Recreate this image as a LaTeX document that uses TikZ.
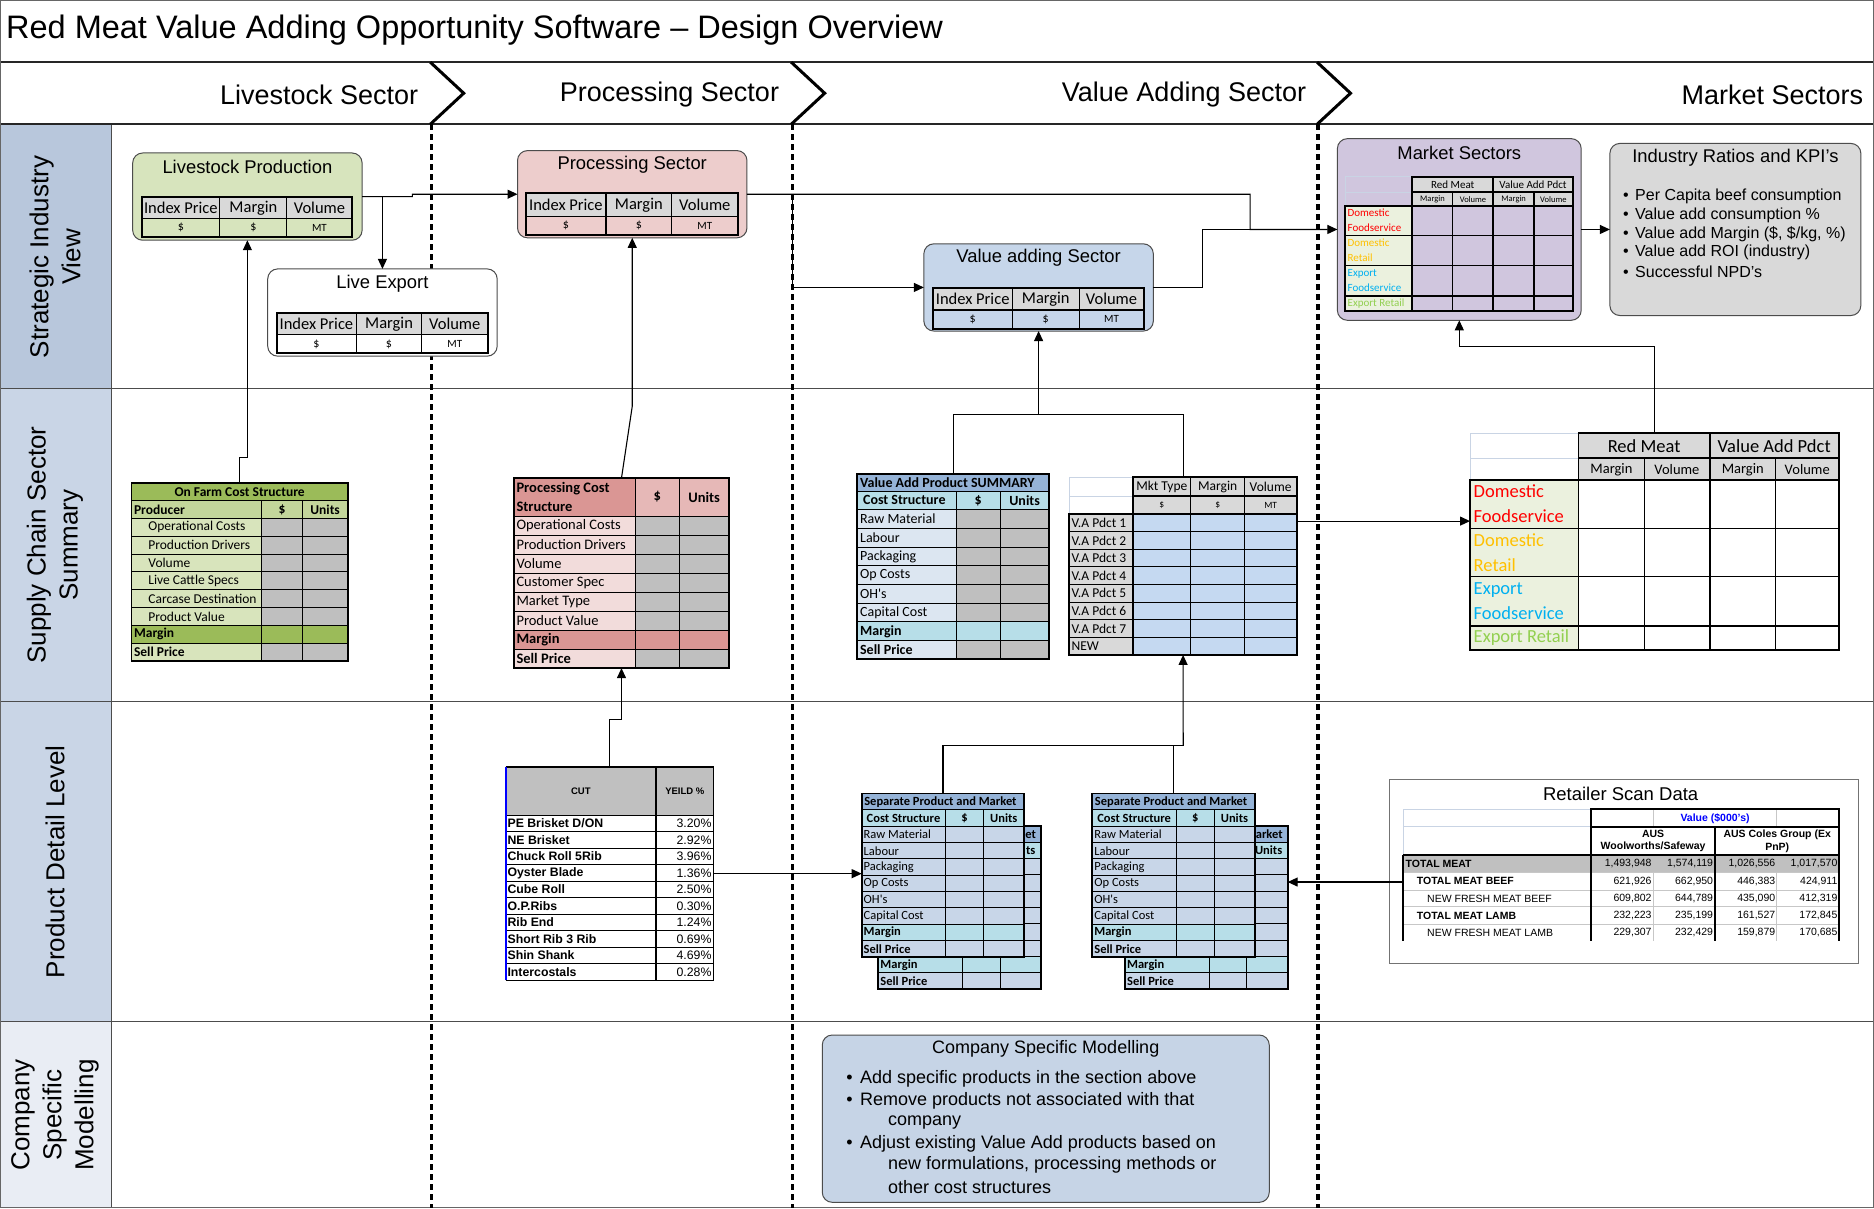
\documentclass[tikz,border=0pt]{standalone}
\usepackage{fontspec}
\setmainfont{Liberation Sans}
\newfontfamily\carl{Carlito}
\usetikzlibrary{arrows.meta,fit}

\newcount\txtno
\newcommand\fs[2]{\fontsize{#1}{#2}\selectfont}

\definecolor{bandA}{HTML}{B8C7DC}
\definecolor{bandB}{HTML}{C9D5E6}
\definecolor{bandC}{HTML}{E9EDF4}
\definecolor{lpgreen}{HTML}{D7E4BD}
\definecolor{pspink}{HTML}{EDCDCC}
\definecolor{vablue}{HTML}{C6D6EA}
\definecolor{mspurple}{HTML}{D0C6DE}
\definecolor{kpigray}{HTML}{D9D9D9}
\definecolor{hdgray}{HTML}{D9D9D9}
\definecolor{cgray}{HTML}{BFBFBF}
\definecolor{olive}{HTML}{9BBB59}
\definecolor{oliveB}{HTML}{C3D69B}
\definecolor{oliveC}{HTML}{D8E4BC}
\definecolor{roseA}{HTML}{DA9694}
\definecolor{roseB}{HTML}{E6B8B7}
\definecolor{roseC}{HTML}{F2DCDB}
\definecolor{steelA}{HTML}{95B3D7}
\definecolor{aquaB}{HTML}{B7DEE8}
\definecolor{steelC}{HTML}{DCE6F1}
\definecolor{steelD}{HTML}{C8D6E8}
\definecolor{skyD}{HTML}{C5D9F1}
\definecolor{mintC}{HTML}{EBF1DE}
\definecolor{faint}{HTML}{C9D4E4}
\definecolor{mkRed}{HTML}{FF0000}
\definecolor{mkGold}{HTML}{FFC000}
\definecolor{mkCyan}{HTML}{00B0F0}
\definecolor{mkLime}{HTML}{92D050}
\definecolor{csmfill}{HTML}{C6D4E6}
\definecolor{yieldhd}{HTML}{C0C0C0}

\tikzset{
  autoname/.style={/utils/exec={\global\advance\txtno by 1}, name=cell\the\txtno},
  c0/.style={inner sep=0pt, anchor=center},
  l0/.style={inner sep=0pt, anchor=west},
  r0/.style={inner sep=0pt, anchor=east},
  ct/.style={c0, autoname},
  lt/.style={l0, autoname},
  rt/.style={r0, autoname},
  cellrule/.style={draw=black, line width=1.1pt},
  boldrule/.style={draw=black, line width=1.9pt},
  lightrule/.style={draw=faint, line width=0.8pt},
  panel/.style={draw=black!70, line width=1pt, rounded corners=10pt},
  fitbox/.style={inner sep=0pt, outer sep=0pt},
  wire/.style={draw=black, line width=1.1pt},
  wirearrow/.style={wire, -{Triangle[length=10pt,width=9pt]}},
  lanesep/.style={line width=3.6pt, dash pattern=on 6pt off 4pt},
  chevron/.style={line width=3pt},
  sheetbold/.style={font=\carl\bfseries\fs{12.5}{14}},
  sheetplain/.style={font=\carl\fs{12.5}{14}},
}

% three-column sector summary table: column edges #1-#4, row edges #5-#7, unit-row fill #8
\newcommand\sectab[8]{%
  \fill[hdgray] (#1,#5) rectangle (#4,#6);
  \fill[#8] (#1,#6) rectangle (#4,#7);
  \draw[cellrule] (#1,#6) -- (#4,#6) (#2,#5) -- (#2,#7) (#3,#5) -- (#3,#7);
  \draw[boldrule] (#1,#5) rectangle (#4,#7);
  \node[ct, font=\carl\fs{16.5}{18}] at ({(#1+#2)/2},{(#5+#6)/2}) {Index Price};
  \node[ct, font=\carl\fs{16.5}{18}] at ({(#2+#3)/2},{(#5+#6)/2}) {Margin};
  \node[ct, font=\carl\fs{16.5}{18}] at ({(#3+#4)/2},{(#5+#6)/2}) {Volume};
  \node[ct, font=\carl\fs{12}{14}] at ({(#1+#2)/2},{(#6+#7)/2}) {\$};
  \node[ct, font=\carl\fs{12}{14}] at ({(#2+#3)/2},{(#6+#7)/2}) {\$};
  \node[ct, font=\carl\fs{11}{13}] at ({(#3+#4)/2},{(#6+#7)/2}) {MT};
}

% market sector grid: origin #1,#2, scale #3, data fill #4, fonts #5 #6 #7
\newcommand\mktab[7]{%
  \begin{scope}[shift={(#1,#2)}, scale=#3]
    \draw[lightrule] (0,0) rectangle (56,12.8) (0,12.8) rectangle (56,24);
    \fill[hdgray] (56,0) rectangle (190.4,24);
    \fill[mintC] (0,24) rectangle (56,112);
    \fill[#4] (56,24) rectangle (190.4,112);
    \draw[cellrule] (56,12.8) -- (190.4,12.8) (89.9,12.8) -- (89.9,112) (157.9,12.8) -- (157.9,112)
      (0,49) -- (190.4,49) (0,74) -- (190.4,74);
    \draw[boldrule] (56,0) rectangle (123.8,12.8) (123.8,0) rectangle (190.4,12.8)
      (56,0) rectangle (190.4,24) (0,24) rectangle (190.4,112)
      (56,24) -- (56,112) (123.8,12.8) -- (123.8,112) (0,99.4) -- (190.4,99.4);
    \node[ct, font=#5] at (89.9,6.6) {Red Meat};
    \node[ct, font=#5] at (157.1,6.6) {Value Add Pdct};
    \foreach \cx/\lab in {73/Margin,106.85/Volume,140.85/Margin,174.15/Volume}
      \node[ct, font=#6] at (\cx,18.6) {\lab};
    \node[lt, align=left, font=#7, text=mkRed] at (1.8,36.5) {Domestic\\Foodservice};
    \node[lt, align=left, font=#7, text=mkGold] at (1.8,61.5) {Domestic\\Retail};
    \node[lt, align=left, font=#7, text=mkCyan] at (1.8,86.7) {Export\\Foodservice};
    \node[lt, font=#7, text=mkLime] at (1.8,105.7) {Export Retail};
  \end{scope}}

% cells and rules of a product and market cost sheet, top-left corner at #1,#2
\newcommand\sheetgrid[2]{%
  \begin{scope}[shift={(#1,#2)}]
    \fill[steelA] (0,0) rectangle (136,13.67);
    \fill[aquaB] (0,13.67) rectangle (136,27.34);
    \fill[steelD] (0,27.34) rectangle (136,109.36);
    \fill[aquaB] (0,109.36) rectangle (136,123.03);
    \fill[steelD] (0,123.03) rectangle (136,136.7);
    \foreach \i in {1,...,9} \draw[cellrule] (0,13.67*\i) -- (136,13.67*\i);
    \draw[cellrule] (70.4,13.67) -- (70.4,136.7) (101.8,13.67) -- (101.8,136.7);
    \draw[boldrule] (0,0) rectangle (136,136.7);
  \end{scope}}

% full set of labels for a sheet that is not covered
\newcommand\sheettext[2]{%
  \begin{scope}[shift={(#1,#2)}]
    \node[lt, sheetbold] at (2,6.9) {Separate Product and Market};
    \node[lt, sheetbold] at (4,20.6) {Cost Structure};
    \node[ct, sheetbold] at (86.1,20.6) {\$};
    \node[ct, sheetbold] at (118.9,20.6) {Units};
    \foreach \lab [count=\i from 2] in {Raw Material,Labour,Packaging,Op Costs,OH's,Capital Cost}
      \node[lt, sheetplain] at (1.5,13.67*\i+6.9) {\lab};
    \node[lt, sheetbold] at (1.5,116.3) {Margin};
    \node[lt, sheetbold] at (1.5,130) {Sell Price};
  \end{scope}}

% one line of the retailer scan table
\newcommand\rrow[8]{%
  \node[lt, font=#3] at (#2,#1) {#4};
  \node[rt, font=\fs{10.5}{12}] at (1382,#1) {#5};
  \node[rt, font=\fs{10.5}{12}] at (1433.5,#1) {#6};
  \node[rt, font=\fs{10.5}{12}] at (1485.5,#1) {#7};
  \node[rt, font=\fs{10.5}{12}] at (1537.5,#1) {#8};
}

\begin{document}
\begin{tikzpicture}[x=1.1952pt, y=-1.1952pt]
\useasboundingbox (0,0) rectangle (1568,1011);
\fill[white] (0,0) rectangle (1568,1011);

% ---------- lane bands and frame ----------
\fill[bandA] (0,104) rectangle (93,325);
\fill[bandB] (0,325) rectangle (93,587);
\fill[bandB] (0,587) rectangle (93,855);
\fill[bandC] (0,855) rectangle (93,1011);
\draw[black!70, line width=1pt] (0,325) -- (1568,325) (0,587) -- (1568,587) (0,855) -- (1568,855) (93,104) -- (93,1011);
\draw[black!85, line width=1.6pt] (0,52) -- (1568,52) (0,104) -- (1568,104);
\draw[black!60, line width=1.2pt] (0.5,0.5) rectangle (1567.5,1010.5);

\node[l0, font=\fs{32.5}{36}] (title) at (5,25) {Red Meat Value Adding Opportunity Software – Design Overview};

% sector chevrons and dotted sector boundaries
\foreach \xx in {360,662,1102}{
  \draw[chevron] (\xx,52) -- (\xx+28,78) -- (\xx,104);
  \draw[lanesep] (\xx+1,104) -- (\xx+1,1011);
}
\node[r0, font=\fs{27}{30}] (hLive) at (350,79) {Livestock Sector};
\node[r0, font=\fs{27}{30}] (hProc) at (652,79) {Processing Sector};
\node[r0, font=\fs{27}{30}] (hVal) at (1093,79) {Value Adding Sector};
\node[r0, font=\fs{27}{30}] (hMkt) at (1559,79) {Market Sectors};

\node[c0, rotate=90, align=center, font=\fs{26}{32}] (rStrat) at (46,215) {Strategic Industry\\View};
\node[c0, rotate=90, align=center, font=\fs{26}{32}] (rSupply) at (46,456) {Supply Chain Sector\\Summary};
\node[c0, rotate=90, align=center, font=\fs{26}{32}] (rProd) at (46,721) {Product Detail Level};
\node[c0, rotate=90, align=center, font=\fs{26}{32}] (rComp) at (46,933) {Company\\Specific\\Modelling};

% ---------- strategic industry view ----------
\node[fit={(111,128) (303,201)}, fitbox, panel, fill=lpgreen] (lp) {};
\node[c0, font=\fs{18.4}{20}] (lpT) at (207,140) {Livestock Production};
\sectab{118.6}{184}{240}{294.6}{165}{183}{198}{lpgreen}

\node[fit={(224,225) (416,298)}, fitbox, panel, fill=white] (le) {};
\node[c0, font=\fs{18.4}{20}] (leT) at (320,237) {Live Export};
\sectab{231.5}{298}{353}{408}{262}{280}{295.5}{white}

\node[fit={(433,126) (625,199)}, fitbox, panel, fill=pspink] (ps) {};
\node[c0, font=\fs{18.4}{20}] (psT) at (529,138) {Processing Sector};
\sectab{440}{507}{562}{617.5}{161.7}{181}{196.7}{pspink}

\node[fit={(773,204) (965,277)}, fitbox, panel, fill=vablue] (vas) {};
\node[c0, font=\fs{18.4}{20}] (vasT) at (869,216) {Value adding Sector};
\sectab{780.7}{847}{903}{957}{240.7}{259.4}{275}{vablue}

\node[fit={(1119,116) (1323,268)}, fitbox, panel, fill=mspurple] (ms) {};
\node[c0, font=\fs{18.4}{20}] (msT) at (1221,128) {Market Sectors};
\mktab{1125.6}{148}{1}{mspurple}{\carl\fs{11}{12}}{\carl\fs{8.5}{9}}{\carl\fs{11}{15}}

\node[fit={(1347,120) (1557,264)}, fitbox, panel, fill=kpigray] (kpi) {};
\node[c0, font=\fs{18.4}{20}] (kpiT) at (1452,132) {Industry Ratios and KPI’s};
\foreach \yy/\lab in {164/Per Capita beef consumption,180/Value add consumption \%,196/{Value add Margin (\$, \$/kg, \%)},211.5/Value add ROI (industry),227/Successful NPD’s}
  \node[lt, font=\fs{16}{18}] at (1358,\yy) {\textbullet\hspace{6.4pt}\lab};

% ---------- supply chain sector summary ----------
% on-farm cost structure
\fill[olive] (110,404) rectangle (291,418.9);
\fill[oliveB] (110,418.9) rectangle (291,433.8);
\foreach \lab [count=\i from 2] in {Operational Costs,Production Drivers,Volume,Live Cattle Specs,Carcase Destination,Product Value}{
  \pgfmathsetmacro\ya{404+14.9*\i}
  \fill[oliveC] (110,\ya) rectangle (219,\ya+14.9);
  \fill[cgray] (219,\ya) rectangle (291,\ya+14.9);
  \node[lt, font=\carl\fs{13.5}{15}] at (124,\ya+7.45) {\lab};
}
\fill[olive] (110,523.2) rectangle (291,538.1);
\fill[oliveC] (110,538.1) rectangle (219,553);
\fill[cgray] (219,538.1) rectangle (291,553);
\foreach \i in {1,...,9} \draw[cellrule] (110,404+14.9*\i) -- (291,404+14.9*\i);
\draw[cellrule] (219,418.9) -- (219,553) (253,418.9) -- (253,553);
\draw[boldrule] (110,404) rectangle (291,553);
\node[ct, font=\carl\bfseries\fs{13.5}{15}] at (200.5,411.5) {On Farm Cost Structure};
\node[lt, font=\carl\bfseries\fs{13.5}{15}] at (112,426.4) {Producer};
\node[ct, font=\carl\bfseries\fs{13.5}{15}] at (236,426.4) {\$};
\node[ct, font=\carl\bfseries\fs{13.5}{15}] at (272,426.4) {Units};
\node[lt, font=\carl\bfseries\fs{13.5}{15}] at (112,530.7) {Margin};
\node[lt, font=\carl\bfseries\fs{13.5}{15}] at (112,545.6) {Sell Price};
\node[fit={(110,404) (291,553)}, fitbox] (onfarm) {};

% processing cost structure
\fill[roseA] (430,400) rectangle (531.4,431.8);
\fill[roseB] (531.4,400) rectangle (610,431.8);
\foreach \lab [count=\i from 0] in {Operational Costs,Production Drivers,Volume,Customer Spec,Market Type,Product Value}{
  \pgfmathsetmacro\ya{431.8+15.9*\i}
  \fill[roseC] (430,\ya) rectangle (531.4,\ya+15.9);
  \fill[cgray] (531.4,\ya) rectangle (610,\ya+15.9);
  \node[lt, font=\carl\fs{14.5}{16}] at (432,\ya+7.95) {\lab};
}
\fill[roseA] (430,527.2) rectangle (610,543.1);
\fill[roseC] (430,543.1) rectangle (531.4,559);
\fill[cgray] (531.4,543.1) rectangle (610,559);
\foreach \i in {0,...,7} \draw[cellrule] (430,431.8+15.9*\i) -- (610,431.8+15.9*\i);
\draw[cellrule] (531.4,400) -- (531.4,559) (568.4,400) -- (568.4,559);
\draw[boldrule] (430,400) rectangle (610,559);
\node[lt, align=left, font=\carl\bfseries\fs{14.5}{18.5}] at (432,415.9) {Processing Cost\\Structure};
\node[ct, font=\carl\bfseries\fs{14.5}{16}] at (549.9,415.9) {\$};
\node[ct, font=\carl\bfseries\fs{14.5}{16}] at (589.2,415.9) {Units};
\node[lt, font=\carl\bfseries\fs{14.5}{16}] at (432,535.2) {Margin};
\node[lt, font=\carl\bfseries\fs{14.5}{16}] at (432,551.1) {Sell Price};
\node[fit={(430,400) (610,559)}, fitbox] (pcs) {};

% value add product summary
\fill[steelA] (717.4,396.6) rectangle (877.8,410.9);
\fill[aquaB] (717.4,410.9) rectangle (877.8,426.5);
\foreach \lab [count=\i from 0] in {Raw Material,Labour,Packaging,Op Costs,OH's,Capital Cost}{
  \pgfmathsetmacro\ya{426.5+15.64*\i}
  \fill[steelC] (717.4,\ya) rectangle (800,\ya+15.64);
  \fill[cgray] (800,\ya) rectangle (877.8,\ya+15.64);
  \node[lt, font=\carl\fs{14}{16}] at (719.5,\ya+7.82) {\lab};
}
\fill[aquaB] (717.4,520.3) rectangle (877.8,536);
\fill[steelC] (717.4,536) rectangle (800,551.7);
\fill[cgray] (800,536) rectangle (877.8,551.7);
\foreach \i in {0,...,8} \draw[cellrule] (717.4,410.9+15.64*\i) -- (877.8,410.9+15.64*\i);
\draw[cellrule] (800,410.9) -- (800,551.7) (836.8,410.9) -- (836.8,551.7);
\draw[boldrule] (717.4,396.6) rectangle (877.8,551.7);
\node[lt, font=\carl\bfseries\fs{14}{16}] at (719.5,403.8) {Value Add Product SUMMARY};
\node[lt, font=\carl\bfseries\fs{14}{16}] at (722,418.7) {Cost Structure};
\node[ct, font=\carl\bfseries\fs{14}{16}] at (818.4,418.7) {\$};
\node[ct, font=\carl\bfseries\fs{14}{16}] at (857.3,418.7) {Units};
\node[lt, font=\carl\bfseries\fs{14}{16}] at (719.5,528.2) {Margin};
\node[lt, font=\carl\bfseries\fs{14}{16}] at (719.5,543.9) {Sell Price};
\node[fit={(717.4,396.6) (877.8,551.7)}, fitbox] (vsum) {};

% value add product list by market type
\draw[lightrule] (894.8,399.4) rectangle (947.8,415) (894.8,415) rectangle (947.8,430);
\fill[hdgray] (947.8,399.4) rectangle (1085,430);
\fill[hdgray] (894.8,430) rectangle (947.8,548);
\fill[skyD] (947.8,430) rectangle (1085,548);
\foreach \i in {1,...,7} \draw[cellrule] (894.8,430+14.75*\i) -- (1085,430+14.75*\i);
\draw[cellrule] (947.8,415) -- (1085,415) (996.4,399.4) -- (996.4,548) (1041.3,399.4) -- (1041.3,548);
\draw[boldrule] (947.8,399.4) rectangle (1085,430) (894.8,430) rectangle (1085,548) (947.8,430) -- (947.8,548);
\foreach \cx/\lab in {972.1/Mkt Type,1018.85/Margin,1063.15/Volume}
  \node[ct, font=\carl\fs{13.5}{15}] at (\cx,407.4) {\lab};
\foreach \cx/\lab in {972.1/\$,1018.85/\$,1063.15/MT}
  \node[ct, font=\carl\fs{9.5}{11}] at (\cx,422.7) {\lab};
\foreach \lab [count=\i from 0] in {V.A Pdct 1,V.A Pdct 2,V.A Pdct 3,V.A Pdct 4,V.A Pdct 5,V.A Pdct 6,V.A Pdct 7,NEW}
  \node[lt, font=\carl\fs{13.5}{15}] at (896.5,430+14.75*\i+7.4) {\lab};
\node[fit={(894.8,399.4) (1085,548)}, fitbox] (mkt) {};

% market sector summary grid
\mktab{1230}{362.6}{1.62}{white}{\carl\fs{18.5}{20}}{\carl\fs{14.5}{16}}{\carl\fs{18.5}{25}}
\node[fit={(1230,362.6) (1539,544)}, fitbox] (smk) {};

% ---------- product detail level ----------
% carcase cut yields
\fill[yieldhd] (423,642) rectangle (597,682);
\foreach \cut/\pct [count=\i from 0] in {PE Brisket D\slash ON/3.20,NE Brisket/2.92,Chuck Roll 5Rib/3.96,Oyster Blade/1.36,Cube Roll/2.50,O.P.Ribs/0.30,Rib End/1.24,Short Rib 3 Rib/0.69,Shin Shank/4.69,Intercostals/0.28}{
  \node[lt, font=\bfseries\fs{12.3}{14}] at (424.5,682+13.8*\i+6.9) {\cut};
  \node[rt, font=\fs{12.3}{14}] at (595.5,682+13.8*\i+6.9) {\pct\%};
}
\foreach \i in {0,...,10} \draw[black, line width=0.9pt] (423,682+13.8*\i) -- (597,682+13.8*\i);
\draw[boldrule] (423,642) -- (597,642) -- (597,820);
\draw[boldrule] (549,642) -- (549,820);
\draw[blue, line width=2pt] (423,642) -- (423,820);
\node[ct, font=\bfseries\fs{9.5}{11}] at (486,662) {CUT};
\node[ct, font=\bfseries\fs{9.5}{11}] at (573,662) {YEILD \%};
\node[fit={(423,642) (597,820)}, fitbox] (yield) {};

% stacked product and market cost sheets (the rear sheet shows only its uncovered labels)
\sheetgrid{735}{691}
\node[r0, sheetbold] (splbA) at (867,697.9) {et};
\node[r0, sheetbold] (splbB) at (866.5,711.6) {ts};
\node[l0, sheetbold] (splbC) at (736.5,807.3) {Margin};
\node[l0, sheetbold] (splbD) at (736.5,821) {Sell Price};
\node[fit={(735,691) (871,827.7)}, fitbox] (splb) {};
\sheetgrid{721}{663.9}
\sheettext{721}{663.9}
\node[fit={(721,663.9) (857,800.6)}, fitbox] (spl) {};

\sheetgrid{941.4}{691}
\node[r0, sheetbold] (sprbA) at (1073.4,697.9) {arket};
\node[c0, sheetbold] (sprbB) at (1061.5,711.6) {Units};
\node[l0, sheetbold] (sprbC) at (942.9,807.3) {Margin};
\node[l0, sheetbold] (sprbD) at (942.9,821) {Sell Price};
\node[fit={(941.4,691) (1077.4,827.7)}, fitbox] (sprb) {};
\sheetgrid{914}{663.9}
\sheettext{914}{663.9}
\node[fit={(914,663.9) (1050,800.6)}, fitbox] (spr) {};

% retailer scan data
\node[fit={(1163,652) (1555,806)}, fitbox, draw=black!55, line width=1pt, fill=white] (rsd) {};
\node[c0, font=\fs{18.5}{20}] (rsdT) at (1356,664) {Retailer Scan Data};
\fill[yieldhd] (1174,715.5) rectangle (1539,730);
\draw[lightrule] (1174,677.2) rectangle (1331,691.8) (1174,691.8) rectangle (1331,715.5);
\draw[draw=black!22, line width=0.8pt] (1174,730) -- (1539,730) (1174,744.8) -- (1539,744.8) (1174,758.7) -- (1539,758.7) (1174,773.2) -- (1539,773.2)
  (1383.5,730) -- (1383.5,787.1) (1486.7,730) -- (1486.7,787.1) (1383.5,677.2) -- (1383.5,691.8) (1486.7,677.2) -- (1486.7,691.8);
\draw[boldrule] (1331,677.2) rectangle (1539,715.5) (1331,691.8) -- (1539,691.8) (1435,691.8) -- (1435,787.1)
  (1331,715.5) -- (1331,787.1) (1539,715.5) -- (1539,787.1) (1174,715.5) -- (1539,715.5) (1174,715.5) -- (1174,787.1);
\node[ct, font=\bfseries\fs{10.5}{12}, text=blue] at (1435,684.6) {Value (\$000's)};
\node[ct, align=center, font=\bfseries\fs{10.5}{12.5}] at (1383.2,703.8) {AUS\\Woolworths/Safeway};
\node[ct, align=center, font=\bfseries\fs{10.5}{12.5}] at (1487,703.8) {AUS Coles Group (Ex\\PnP)};
\rrow{722.8}{1176}{\bfseries\fs{10.5}{12}}{TOTAL MEAT}{1,493,948}{1,574,119}{1,026,556}{1,017,570}
\rrow{737.4}{1185.4}{\bfseries\fs{10.5}{12}}{TOTAL MEAT BEEF}{621,926}{662,950}{446,383}{424,911}
\rrow{751.8}{1194}{\fs{10.5}{12}}{NEW FRESH MEAT BEEF}{609,802}{644,789}{435,090}{412,319}
\rrow{766}{1185.4}{\bfseries\fs{10.5}{12}}{TOTAL MEAT LAMB}{232,223}{235,199}{161,527}{172,845}
\rrow{780.2}{1194}{\fs{10.5}{12}}{NEW FRESH MEAT LAMB}{229,307}{232,429}{159,879}{170,685}
\node[fit={(1174,677.2) (1539,787.1)}, fitbox] (rtab) {};

% ---------- company specific modelling ----------
\node[fit={(688,866) (1062,1006)}, fitbox, panel, fill=csmfill] (csm) {};
\node[c0, font=\fs{18}{20}] (csmT) at (875,877.5) {Company Specific Modelling};
\node[lt, font=\fs{18}{20}] at (708,903) {\textbullet\hspace{7.5pt}Add specific products in the section above};
\node[lt, font=\fs{18}{20}] at (708,921) {\textbullet\hspace{7.5pt}Remove products not associated with that};
\node[lt, font=\fs{18}{20}] at (743,939) {company};
\node[lt, font=\fs{18}{20}] at (708,957) {\textbullet\hspace{7.5pt}Adjust existing Value Add products based on};
\node[lt, font=\fs{18}{20}] at (743,975) {new formulations, processing methods or};
\node[lt, font=\fs{18}{20}] at (743,993) {other cost structures};

% ---------- connectors ----------
\draw[wirearrow] (lp.east) -- (345,164.5) |- (ps.west);
\draw[wirearrow] (320,164.5) -- (le.north);
\draw[wirearrow] (ps.east) -- (1046,162.5) |- (ms.west);
\draw[wirearrow] (663,162.5) |- (vas.west);
\draw[wire] (vas.east) -| (1006,192) -- (1046,192);
\draw[wirearrow] (ms.east) -- (kpi.west);

\draw[wirearrow] (onfarm.north) -- (200.5,383) -- (207,383) -- (lp.south);
\draw[wirearrow] (pcs.north) -- (529,340) -- (ps.south);
\coordinate (jv) at (869,347);
\draw[wire] (vsum.north) |- (jv) -| (mkt.north);
\draw[wirearrow] (jv) -- (vas.south);
\coordinate (jm) at (1221,290);
\draw[wirearrow] (smk.north) |- (jm) -- (ms.south);
\draw[wirearrow] (mkt.east |- 0,436) -- (smk.west |- 0,436);

\draw[wirearrow] (yield.north) -- (510,602) -- (520,602) -- (pcs.south);
\draw[wirearrow] (yield.east |- 0,731) -- (spl.west |- 0,731);
\draw[wirearrow] (rtab.west |- 0,738) -- (sprb.east |- 0,738);
\coordinate (jp) at (990,624);
\draw[wire] (spl.north) |- (jp);
\draw[wire] (spr.north) -- (spr.north |- jp);
\draw[wirearrow] (jp) -- (mkt.south);
\end{tikzpicture}
\end{document}
